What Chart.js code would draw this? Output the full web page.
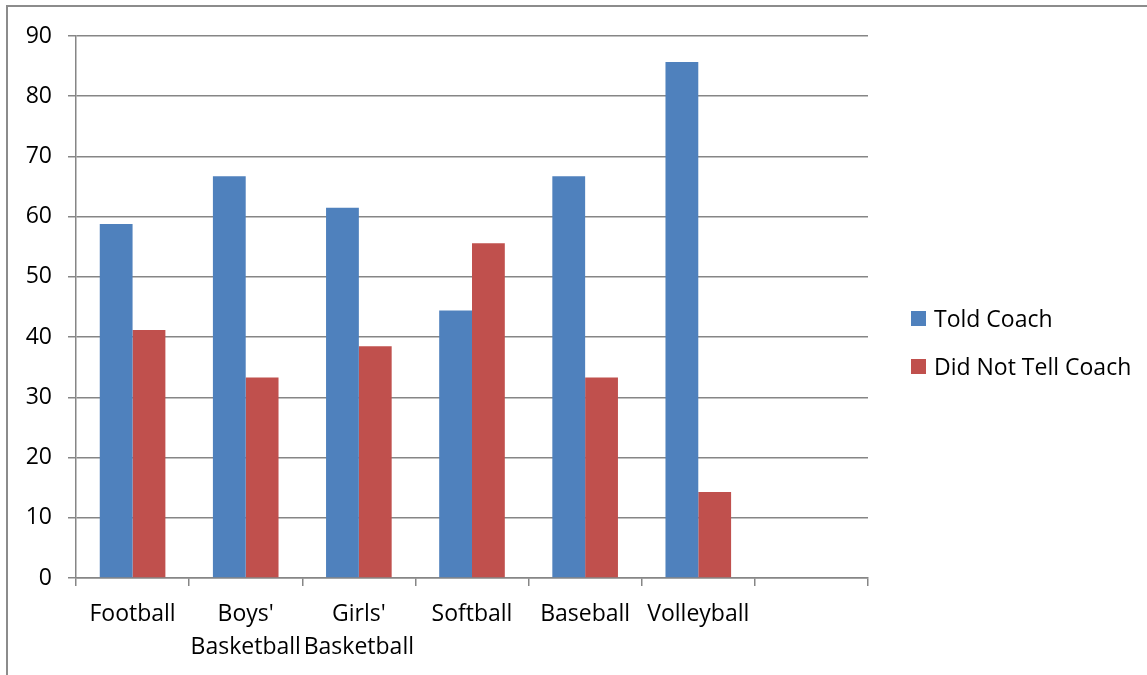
<!DOCTYPE html>
<html lang="en">
<head>
  <meta charset="UTF-8" />
  <title>Told Coach vs Did Not Tell Coach</title>
  <script src="https://cdn.jsdelivr.net/npm/chart.js"></script>
  <style>
    html, body {
      margin: 0;
      padding: 0;
      width: 1147px;
      height: 675px;
      overflow: hidden;
      background: #ffffff;
      font-family: 'Open Sans', 'Noto Sans', sans-serif;
    }
    .frame {
      position: absolute;
      left: 6px;
      top: 5px;
      width: 1400px;
      height: 900px;
      border: 2px solid #8c8c8c;
    }
    #sportsChart {
      position: absolute;
      left: 0;
      top: 0;
    }
    #legend {
      position: absolute;
      left: 911px;
      top: 302px;
      margin: 0;
      padding: 0;
      list-style: none;
      font-size: 23px;
      color: #000;
    }
    #legend li {
      display: flex;
      align-items: center;
      height: 32px;
      margin-bottom: 16px;
      white-space: nowrap;
    }
    #legend .swatch {
      display: inline-block;
      width: 15px;
      height: 15px;
      margin-right: 8px;
    }
  </style>
</head>
<body>
<div class="frame"></div>
<canvas id="sportsChart" width="1147" height="675"></canvas>
<ul id="legend"></ul>

<script>
  const sports = ['Football', ["Boys'", 'Basketball'], ["Girls'", 'Basketball'], 'Softball', 'Baseball', 'Volleyball', ''];
  const toldCoach = [58.8, 66.7, 61.5, 44.4, 66.7, 85.7, null];
  const didNotTell = [41.2, 33.3, 38.5, 55.6, 33.3, 14.3, null];
  const yTicks = [0, 10, 20, 30, 40, 50, 60, 70, 80, 90];

  const fontFamily = "'Open Sans', 'Noto Sans', sans-serif";
  const gridColor = '#868686';

  const chart = new Chart(document.getElementById('sportsChart'), {
    type: 'bar',
    data: {
      labels: sports,
      datasets: [
        {
          label: 'Told Coach',
          data: toldCoach,
          backgroundColor: '#4f81bd',
          borderWidth: 0,
          categoryPercentage: 0.58,
          barPercentage: 1.0
        },
        {
          label: 'Did Not Tell Coach',
          data: didNotTell,
          backgroundColor: '#c0504d',
          borderWidth: 0,
          categoryPercentage: 0.58,
          barPercentage: 1.0
        }
      ]
    },
    options: {
      responsive: false,
      animation: false,
      layout: {
        padding: { left: 0, top: 36, right: 279, bottom: 0 }
      },
      plugins: {
        tooltip: { enabled: false },
        legend: { display: false }
      },
      scales: {
        x: {
          grid: {
            offset: true,
            drawOnChartArea: false,
            drawTicks: true,
            tickLength: 8,
            color: gridColor,
            lineWidth: 1.5
          },
          border: { display: true, color: gridColor, width: 1.5 },
          ticks: {
            color: '#000',
            padding: 12,
            maxRotation: 0,
            autoSkip: false,
            font: { family: fontFamily, size: 23, lineHeight: 1.43 }
          },
          afterFit: (scale) => { scale.height = 97; }
        },
        y: {
          min: 0,
          max: 90,
          afterBuildTicks: (scale) => {
            scale.ticks = yTicks.map(v => ({ value: v }));
          },
          grid: {
            color: gridColor,
            lineWidth: 1.5,
            tickLength: 8
          },
          border: { display: true, color: gridColor, width: 1.5 },
          ticks: {
            color: '#000',
            padding: 16,
            font: { family: fontFamily, size: 23 }
          },
          afterFit: (scale) => { scale.width = 76; }
        }
      }
    }
  });

  // legend on the right, built from the chart's own legend items
  const legendList = document.getElementById('legend');
  chart.options.plugins.legend.labels.generateLabels(chart).forEach(item => {
    const li = document.createElement('li');
    const box = document.createElement('span');
    box.className = 'swatch';
    box.style.background = item.fillStyle;
    li.appendChild(box);
    li.appendChild(document.createTextNode(item.text));
    legendList.appendChild(li);
  });
</script>
</body>
</html>
